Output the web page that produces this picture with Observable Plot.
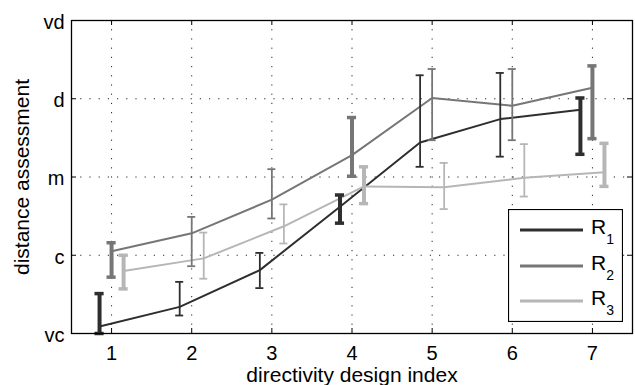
<!DOCTYPE html>
<html>
<head>
<meta charset="utf-8">
<script src="https://cdn.jsdelivr.net/npm/d3@7"></script>
<script src="https://cdn.jsdelivr.net/npm/@observablehq/plot@0.6"></script>
<style>
  body { margin: 0; background: #fff; }
  #chart { position: relative; width: 635px; height: 385px; font-family: "Liberation Sans", Arial, sans-serif; }
  #legend { position: absolute; left: 508px; top: 209px; }
</style>
</head>
<body>
<div id="chart"></div>
<script>
// Directivity designs (x) and the verbal distance scale (y)
const designs = [1, 2, 3, 4, 5, 6, 7];
const levelValues = [1, 2, 3, 4, 5];
const levelLabels = ["vc", "c", "m", "d", "vd"];

// Series: mean rating and interval bounds per design
const seriesNames = ["R1", "R2", "R3"];
const seriesColors = ["#2e2e2e", "#767676", "#b6b6b6"];
const seriesOffsets = [-0.15, 0, 0.15];

const r1Mean = [1.09, 1.34, 1.81, 2.62, 3.44, 3.74, 3.86];
const r1Low  = [1.00, 1.23, 1.58, 2.41, 3.13, 3.26, 3.29];
const r1High = [1.51, 1.66, 2.03, 2.77, 4.30, 4.33, 4.01];

const r2Mean = [2.05, 2.28, 2.71, 3.28, 4.01, 3.91, 4.14];
const r2Low  = [1.72, 1.86, 2.47, 3.01, 3.47, 3.47, 3.49];
const r2High = [2.16, 2.49, 3.10, 3.76, 4.38, 4.38, 4.42];

const r3Mean = [1.80, 1.96, 2.37, 2.88, 2.87, 2.99, 3.06];
const r3Low  = [1.57, 1.70, 2.15, 2.66, 2.59, 2.75, 2.88];
const r3High = [2.00, 2.29, 2.65, 3.13, 3.18, 3.42, 3.43];

// Designs whose intervals are drawn with heavy bars
const wideDesigns = [1, 4, 7];

const means = [r1Mean, r2Mean, r3Mean];
const lows = [r1Low, r2Low, r3Low];
const highs = [r1High, r2High, r3High];

const rows = [];
seriesNames.forEach((s, si) => {
  designs.forEach((d, di) => {
    rows.push({
      series: s,
      design: d,
      x: d + seriesOffsets[si],
      mean: means[si][di],
      lo: lows[si][di],
      hi: highs[si][di],
      wide: wideDesigns.includes(d)
    });
  });
});
const wideRows = rows.filter(r => r.wide);
const thinRows = rows.filter(r => !r.wide);

const W = 635, H = 385, mL = 71, mR = 3, mT = 20, mB = 52;
const plotW = W - mL - mR, plotH = H - mT - mB;
const font = '"Liberation Sans", Arial, sans-serif';
const capThin = 0.05, capWide = 0.057;

const gridStyle = { stroke: "#000", strokeWidth: 1, strokeDasharray: "1.2,8", strokeOpacity: 0.85 };

const chart = Plot.plot({
  width: W,
  height: H,
  marginLeft: mL,
  marginRight: mR,
  marginTop: mT,
  marginBottom: mB,
  style: { fontFamily: font, fontSize: "20px", background: "#fff", color: "#000" },
  x: { domain: [0.5, 7.5] },
  y: { domain: [1, 5] },
  color: { domain: seriesNames, range: seriesColors },
  marks: [
    // dotted grid
    Plot.ruleX(designs, { x: d => d, ...gridStyle }),
    Plot.ruleY([2, 3, 4], { y: d => d, ...gridStyle }),
    // mean lines
    Plot.line(rows, { x: "x", y: "mean", z: "series", stroke: "series", strokeWidth: 2 }),
    // interval bars
    Plot.ruleX(thinRows, { x: "x", y1: "lo", y2: "hi", stroke: "series", strokeWidth: 1.8 }),
    Plot.ruleY(thinRows, { y: "hi", x1: d => d.x - capThin, x2: d => d.x + capThin, stroke: "series", strokeWidth: 1.8 }),
    Plot.ruleY(thinRows, { y: "lo", x1: d => d.x - capThin, x2: d => d.x + capThin, stroke: "series", strokeWidth: 1.8 }),
    Plot.ruleX(wideRows, { x: "x", y1: "lo", y2: "hi", stroke: "series", strokeWidth: 4 }),
    Plot.ruleY(wideRows, { y: "hi", x1: d => d.x - capWide, x2: d => d.x + capWide, stroke: "series", strokeWidth: 3.5 }),
    Plot.ruleY(wideRows, { y: "lo", x1: d => d.x - capWide, x2: d => d.x + capWide, stroke: "series", strokeWidth: 3.5 }),
    // axes box with inward ticks
    Plot.frame({ stroke: "#000", strokeWidth: 1.3 }),
    Plot.tickX(designs, { x: d => d, insetTop: plotH - 5, stroke: "#000" }),
    Plot.tickX(designs, { x: d => d, insetBottom: plotH - 5, stroke: "#000" }),
    Plot.tickY(levelValues, { y: d => d, insetRight: plotW - 5, stroke: "#000" }),
    Plot.tickY(levelValues, { y: d => d, insetLeft: plotW - 5, stroke: "#000" }),
    // tick labels
    Plot.axisX({ ticks: designs, tickFormat: d => String(d), tickSize: 0, tickPadding: 12, label: null, fontSize: 20 }),
    Plot.axisY({ ticks: levelValues, tickFormat: v => levelLabels[levelValues.indexOf(v)], tickSize: 0, tickPadding: 7, label: null, fontSize: 20, dy: 2 }),
    // axis titles
    Plot.text(["directivity design index"], { text: d => d, frameAnchor: "bottom", dy: 34, lineAnchor: "top", textAnchor: "middle", fontSize: 21 }),
    Plot.text(["distance assessment"], { text: d => d, frameAnchor: "left", dx: -43, rotate: -90, lineAnchor: "bottom", textAnchor: "middle", fontSize: 21 })
  ]
});

const container = document.getElementById("chart");
container.appendChild(chart);

// Legend box
const lw = 115, lh = 113;
const legend = d3.select(container)
  .append("svg")
  .attr("id", "legend")
  .attr("width", lw)
  .attr("height", lh)
  .style("font-family", font);
legend.append("rect")
  .attr("x", 0.5).attr("y", 0.5)
  .attr("width", lw - 1).attr("height", lh - 1)
  .attr("fill", "#fff").attr("stroke", "#000").attr("stroke-width", 1.2);
const rowY = [21, 57, 92];
seriesNames.forEach((s, i) => {
  const y = rowY[i];
  legend.append("line")
    .attr("x1", 12).attr("x2", 75).attr("y1", y).attr("y2", y)
    .attr("stroke", seriesColors[i]).attr("stroke-width", 2.8);
  const t = legend.append("text")
    .attr("x", 83).attr("y", y + 4)
    .attr("font-size", 21).attr("fill", "#000");
  t.append("tspan").text(s.charAt(0));
  t.append("tspan").attr("dy", 9.5).attr("font-size", 14).text(s.slice(1));
});
</script>
</body>
</html>
